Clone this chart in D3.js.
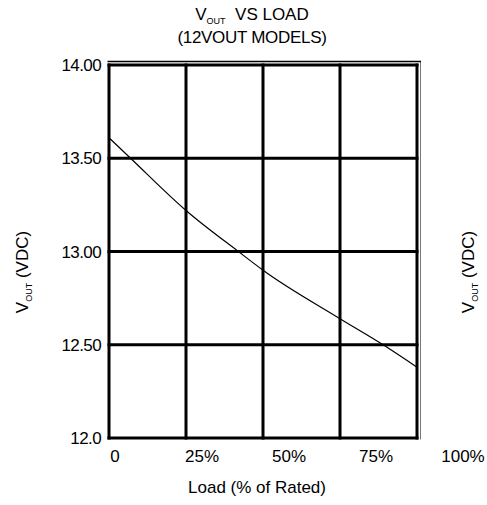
<!DOCTYPE html>
<html>
<head>
<meta charset="utf-8">
<script src="https://cdn.jsdelivr.net/npm/d3@7"></script>
<style>
  body { margin: 0; background: #fff; }
  text { font-family: "Liberation Sans", Arial, sans-serif; fill: #000; }
</style>
</head>
<body>
<svg id="chart"></svg>
<script>
// load in % of rated, output voltage in VDC
var loads = [0, 7, 25, 42, 50, 75, 89, 100]
var vouts = [13.61, 13.50, 13.22, 13.00, 12.90, 12.64, 12.50, 12.38]

var xGrid = [0, 25, 50, 75, 100]
var xTickLabels = ['0', '25%', '50%', '75%', '100%']
var yGrid = [14, 13.5, 13, 12.5, 12]
var yTickLabels = ['14.00', '13.50', '13.00', '12.50', '12.0']

var width = 487
var height = 505

// plot box (note: `top` is taken by window.top)
var plot = {left: 109, right: 417, top: 65, bottom: 438}

var x = d3.scaleLinear().domain([0, 100]).range([plot.left, plot.right])
// tick labels in the original sit offset from the grid lines
var xLabel = d3.scaleLinear().domain([0, 100]).range([115, 463])
var y = d3.scaleLinear().domain([12, 14]).range([plot.bottom, plot.top])

var svg = d3.select('#chart')
    .attr('width', width)
    .attr('height', height)

// grid
svg.selectAll('.vgrid')
    .data(xGrid)
  .enter().append('line')
    .attr('class', 'vgrid')
    .attr('x1', function (d) { return x(d) })
    .attr('x2', function (d) { return x(d) })
    .attr('y1', plot.top - 1.5)
    .attr('y2', plot.bottom + 1.5)
    .attr('stroke', '#000')
    .attr('stroke-width', 3)

svg.selectAll('.hgrid')
    .data(yGrid)
  .enter().append('line')
    .attr('class', 'hgrid')
    .attr('x1', plot.left - 1.5)
    .attr('x2', plot.right + 1.5)
    .attr('y1', function (d) { return y(d) })
    .attr('y2', function (d) { return y(d) })
    .attr('stroke', '#000')
    .attr('stroke-width', 3)

// thin outer edge on top and right
svg.append('line')
    .attr('x1', plot.right + 3.5).attr('x2', plot.right + 3.5)
    .attr('y1', plot.top - 3.5).attr('y2', plot.bottom + 1.5)
    .attr('stroke', '#777').attr('stroke-width', 1)
svg.append('line')
    .attr('x1', plot.left - 1.5).attr('x2', plot.right + 4)
    .attr('y1', plot.top - 3.5).attr('y2', plot.top - 3.5)
    .attr('stroke', '#000').attr('stroke-width', 1.5)

// the curve
var line = d3.line()
    .x(function (d, i) { return x(loads[i]) })
    .y(function (d) { return y(d) })
    .curve(d3.curveMonotoneX)

svg.append('path')
    .datum(vouts)
    .attr('d', line)
    .attr('fill', 'none')
    .attr('stroke', '#000')
    .attr('stroke-width', 1.2)

// y tick labels
svg.selectAll('.y-label')
    .data(yGrid)
  .enter().append('text')
    .attr('class', 'y-label')
    .attr('x', 101)
    .attr('y', function (d) { return y(d) })
    .attr('dy', '0.36em')
    .attr('text-anchor', 'end')
    .attr('font-size', 17)
    .attr('letter-spacing', -0.6)
    .text(function (d, i) { return yTickLabels[i] })

// x tick labels
svg.selectAll('.x-label')
    .data(xGrid)
  .enter().append('text')
    .attr('class', 'x-label')
    .attr('x', function (d) { return xLabel(d) })
    .attr('y', 462)
    .attr('text-anchor', 'middle')
    .attr('font-size', 17)
    .text(function (d, i) { return xTickLabels[i] })

svg.append('text')
    .attr('x', 257)
    .attr('y', 493)
    .attr('text-anchor', 'middle')
    .attr('font-size', 17)
    .text('Load (% of Rated)')

// title
var title = svg.append('text')
    .attr('x', 252)
    .attr('y', 20)
    .attr('text-anchor', 'middle')
    .attr('font-size', 17)
title.append('tspan').text('V')
title.append('tspan').attr('font-size', 9).attr('dy', 4).text('OUT')
title.append('tspan').attr('dy', -4).text('\u00a0 VS LOAD')

svg.append('text')
    .attr('x', 252)
    .attr('y', 43)
    .attr('text-anchor', 'middle')
    .attr('font-size', 17)
    .attr('letter-spacing', -0.3)
    .text('(12VOUT MODELS)')

// y axis titles, left and right
function yTitle (tx) {
  var t = svg.append('text')
      .attr('transform', 'translate(' + tx + ',272) rotate(-90)')
      .attr('text-anchor', 'middle')
      .attr('font-size', 17)
  t.append('tspan').text('V')
  t.append('tspan').attr('font-size', 9).attr('dy', 4).text('OUT')
  t.append('tspan').attr('dy', -4).text(' (VDC)')
}
yTitle(28)
yTitle(474)
</script>
</body>
</html>
